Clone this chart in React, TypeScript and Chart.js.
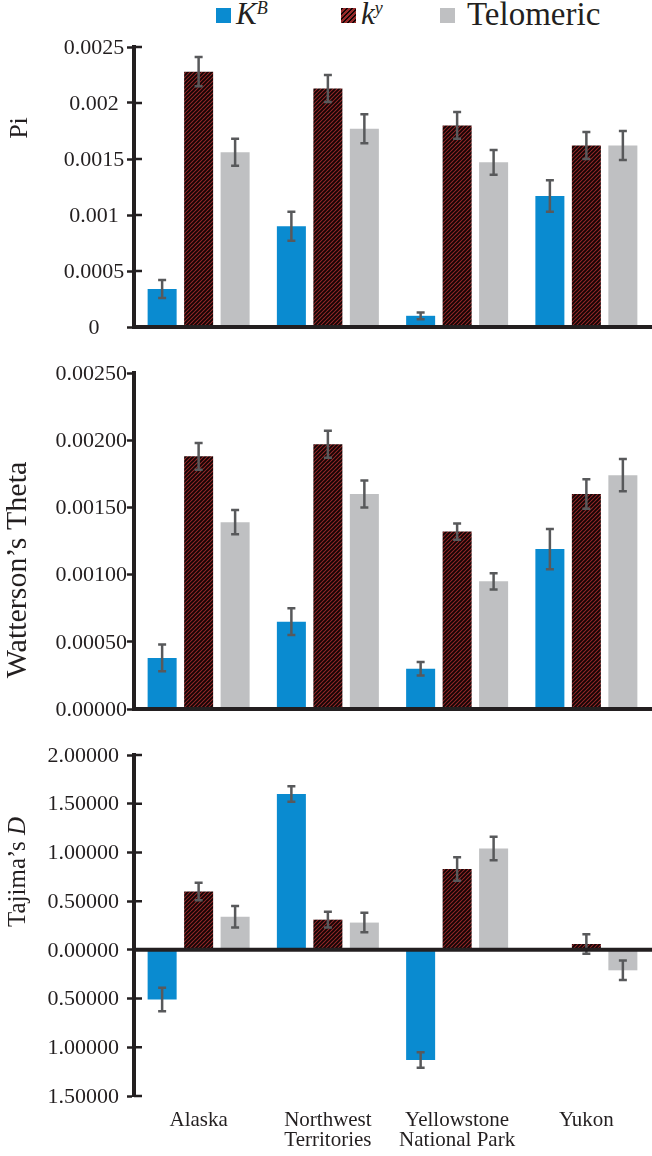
import React, { useEffect, useRef } from 'react';
import { Chart, registerables } from 'chart.js';
Chart.register(...registerables);

// ---------- data ----------
const categories: string[][] = [['Alaska'], ['Northwest', 'Territories'], ['Yellowstone', 'National Park'], ['Yukon']];

const piKB = [0.00034, 0.0009, 0.0001, 0.00117];
const piKBErr = [0.00008, 0.00013, 0.00003, 0.00014];
const piKy = [0.00228, 0.00213, 0.0018, 0.00162];
const piKyErr = [0.00013, 0.00012, 0.00012, 0.00012];
const piTel = [0.00156, 0.00177, 0.00147, 0.00162];
const piTelErr = [0.00012, 0.00013, 0.00011, 0.00013];

const wtKB = [0.00038, 0.00065, 0.0003, 0.00119];
const wtKBErr = [0.0001, 0.0001, 0.00005, 0.00015];
const wtKy = [0.00188, 0.00197, 0.00132, 0.0016];
const wtKyErr = [0.0001, 0.0001, 0.00006, 0.00011];
const wtTel = [0.00139, 0.0016, 0.00095, 0.00174];
const wtTelErr = [0.00009, 0.0001, 0.00006, 0.00012];

const tdKB = [-0.51, 1.6, -1.13, 0];
const tdKBErr = [0.12, 0.08, 0.08, 0];
const tdKy = [0.6, 0.31, 0.83, 0.06];
const tdKyErr = [0.09, 0.08, 0.12, 0.1];
const tdTel = [0.34, 0.28, 1.04, -0.21];
const tdTelErr = [0.11, 0.1, 0.12, 0.1];

const piTickValues = [0, 0.0005, 0.001, 0.0015, 0.002, 0.0025];
const piTickLabels = ['0', '0.0005', '0.001', '0.0015', '0.002', '0.0025'];
const wtTickValues = [0, 0.0005, 0.001, 0.0015, 0.002, 0.0025];
const wtTickLabels = ['0.00000', '0.00050', '0.00100', '0.00150', '0.00200', '0.00250'];
const tdTickValues = [-1.5, -1, -0.5, 0, 0.5, 1, 1.5, 2];
const tdTickLabels = ['1.50000', '1.00000', '0.50000', '0.00000', '0.50000', '1.00000', '1.50000', '2.00000'];

// ---------- styles ----------
const BLUE = '#0a8bd0';
const GRAY = '#bfc0c2';
const INK = '#231f20';
const ERR = '#58595b';
const FONT = '"Liberation Serif", "Times New Roman", serif';

function makePattern(): CanvasPattern | string {
  const c = document.createElement('canvas');
  c.width = 4; c.height = 4;
  const g = c.getContext('2d');
  if (!g) return '#5a1818';
  g.fillStyle = '#96292a';
  g.fillRect(0, 0, 4, 4);
  g.strokeStyle = '#140505';
  g.lineWidth = 1.9;
  g.beginPath();
  g.moveTo(-1, 5); g.lineTo(5, -1);
  g.moveTo(-3, 3); g.lineTo(3, -3);
  g.moveTo(1, 7); g.lineTo(7, 1);
  g.stroke();
  return g.createPattern(c, 'repeat') || '#5a1818';
}

const decorPlugin = {
  id: 'decor',
  afterDatasetsDraw(chart: any, _args: any, opts: any) {
    const ctx = chart.ctx;
    const y = chart.scales.y;
    const xs = chart.scales.x;
    const area = chart.chartArea;
    ctx.save();
    // error bars
    chart.data.datasets.forEach((ds: any, i: number) => {
      const meta = chart.getDatasetMeta(i);
      const errs = opts.errors[i];
      meta.data.forEach((el: any, j: number) => {
        const v = ds.data[j];
        const e = errs[j];
        if (!e) return;
        const yt = y.getPixelForValue(v + e);
        const yb = y.getPixelForValue(v - e);
        ctx.strokeStyle = ERR;
        ctx.lineWidth = 2.5;
        ctx.beginPath();
        ctx.moveTo(el.x, yt); ctx.lineTo(el.x, yb);
        ctx.moveTo(el.x - 4, yt); ctx.lineTo(el.x + 4, yt);
        ctx.moveTo(el.x - 4, yb); ctx.lineTo(el.x + 4, yb);
        ctx.stroke();
      });
    });
    // zero line (category axis)
    const z = y.getPixelForValue(0);
    ctx.strokeStyle = INK;
    ctx.lineWidth = 4;
    ctx.beginPath();
    ctx.moveTo(area.left - 2, z);
    ctx.lineTo(area.right + 1, z);
    ctx.stroke();
    // inner tick halves
    if (opts.crossTicks) {
      ctx.lineWidth = 2.5;
      ctx.beginPath();
      y.ticks.forEach((t: any) => {
        const p = y.getPixelForValue(t.value);
        ctx.moveTo(area.left, p);
        ctx.lineTo(area.left + 8, p);
      });
      ctx.stroke();
    }
    // y tick labels
    ctx.fillStyle = INK;
    ctx.font = `22px ${FONT}`;
    ctx.textBaseline = 'middle';
    ctx.textAlign = opts.labelAlign;
    y.ticks.forEach((t: any, i: number) => {
      ctx.fillText(opts.tickLabels[i], opts.labelX, y.getPixelForValue(t.value) + 1);
    });
    // x category labels
    if (opts.showX) {
      ctx.font = `21px ${FONT}`;
      ctx.textAlign = 'center';
      ctx.textBaseline = 'alphabetic';
      categories.forEach((lines, i) => {
        const px = xs.getPixelForValue(i);
        lines.forEach((ln, k) => ctx.fillText(ln, px, area.bottom + 30 + k * 20));
      });
    }
    // rotated y title
    const parts: { text: string; italic?: boolean }[] = opts.title;
    ctx.textBaseline = 'middle';
    ctx.textAlign = 'left';
    const size = opts.titleSize;
    let total = 0;
    parts.forEach((p) => {
      ctx.font = `${p.italic ? 'italic ' : ''}${size}px ${FONT}`;
      total += ctx.measureText(p.text).width;
    });
    ctx.translate(opts.titleX, opts.titleY);
    ctx.rotate(-Math.PI / 2);
    let x = -total / 2;
    parts.forEach((p) => {
      ctx.font = `${p.italic ? 'italic ' : ''}${size}px ${FONT}`;
      ctx.fillText(p.text, x, 0);
      x += ctx.measureText(p.text).width;
    });
    ctx.restore();
  },
};

function buildConfig(opts: any): any {
  return {
    type: 'bar',
    data: {
      labels: categories.map((c) => c.join(' ')),
      datasets: [
        { label: 'KB', data: opts.s1, backgroundColor: BLUE },
        { label: 'ky', data: opts.s2, backgroundColor: opts.pattern },
        { label: 'Telomeric', data: opts.s3, backgroundColor: GRAY },
      ],
    },
    options: {
      responsive: false,
      devicePixelRatio: 1,
      animation: false,
      categoryPercentage: 0.847,
      barPercentage: 0.795,
      layout: { padding: { top: 15, bottom: opts.padBottom, left: 0, right: 1 } },
      plugins: {
        legend: { display: false },
        tooltip: { enabled: false },
        decor: {
          errors: opts.errors,
          crossTicks: opts.crossTicks,
          tickLabels: opts.tickLabels,
          labelAlign: opts.labelAlign,
          labelX: opts.labelX,
          showX: opts.showX,
          title: opts.title,
          titleSize: opts.titleSize,
          titleX: opts.titleX,
          titleY: opts.titleY,
        },
      },
      scales: {
        x: { display: false },
        y: {
          min: opts.min,
          max: opts.max,
          afterBuildTicks: (s: any) => { s.ticks = opts.tickValues.map((v: number) => ({ value: v })); },
          afterFit: (s: any) => { s.width = 134; },
          grid: { drawOnChartArea: false, drawTicks: true, tickLength: 7, tickWidth: 2.5, tickColor: INK, color: INK },
          border: { display: true, width: 4, color: INK },
          ticks: { display: false },
        },
      },
    },
    plugins: [decorPlugin],
  };
}

const PANEL1_TOP = 32;
const PANEL2_TOP = 358;
const PANEL3_TOP = 740;

export default function App() {
  const r1 = useRef<HTMLCanvasElement>(null);
  const r2 = useRef<HTMLCanvasElement>(null);
  const r3 = useRef<HTMLCanvasElement>(null);

  useEffect(() => {
    const pattern = makePattern();
    const charts: Chart[] = [];
    if (r1.current) {
      charts.push(new Chart(r1.current, buildConfig({
        pattern, s1: piKB, s2: piKy, s3: piTel,
        errors: [piKBErr, piKyErr, piTelErr],
        min: 0, max: 0.0025, tickValues: piTickValues, tickLabels: piTickLabels,
        crossTicks: true, showX: false, padBottom: 15, labelAlign: 'center', labelX: 94,
        title: [{ text: 'Pi' }], titleSize: 26, titleX: 20, titleY: 128 - PANEL1_TOP,
      })));
    }
    if (r2.current) {
      charts.push(new Chart(r2.current, buildConfig({
        pattern, s1: wtKB, s2: wtKy, s3: wtTel,
        errors: [wtKBErr, wtKyErr, wtTelErr],
        min: 0, max: 0.0025, tickValues: wtTickValues, tickLabels: wtTickLabels,
        crossTicks: false, showX: false, padBottom: 15, labelAlign: 'right', labelX: 127,
        title: [{ text: 'Watterson\u2019s Theta' }], titleSize: 30, titleX: 18, titleY: 570 - PANEL2_TOP,
      })));
    }
    if (r3.current) {
      charts.push(new Chart(r3.current, buildConfig({
        pattern, s1: tdKB, s2: tdKy, s3: tdTel,
        errors: [tdKBErr, tdKyErr, tdTelErr],
        min: -1.5, max: 2, tickValues: tdTickValues, tickLabels: tdTickLabels,
        crossTicks: true, showX: true, padBottom: 60, labelAlign: 'right', labelX: 119,
        title: [{ text: 'Tajima\u2019s ' }, { text: 'D', italic: true }], titleSize: 25, titleX: 18, titleY: 872 - PANEL3_TOP,
      })));
    }
    return () => charts.forEach((c) => c.destroy());
  }, []);

  const sq = (color: string, left: number, extra?: any) => (
    <div style={{ position: 'absolute', left, top: 8, width: 15, height: 15, background: color, ...extra }} />
  );
  const legendText: any = { position: 'absolute', top: -4, fontFamily: FONT, color: INK, whiteSpace: 'nowrap', lineHeight: '36px' };
  const supStyle: any = { fontSize: 18, fontStyle: 'italic', verticalAlign: 'top', position: 'relative', top: -6 };

  return (
    <div style={{ position: 'absolute', left: 0, top: 0, width: 652, height: 1156, background: '#fff', overflow: 'hidden' }}>
      {sq(BLUE, 216)}
      <div style={{ ...legendText, left: 236, fontSize: 31 }}>
        <i>K</i><sup style={supStyle}>B</sup>
      </div>
      {sq('#5a1818', 341, { backgroundImage: 'repeating-linear-gradient(-45deg, #96292a 0 2px, #140505 2px 3.5px)' })}
      <div style={{ ...legendText, left: 361, fontSize: 31 }}>
        <i>k</i><sup style={supStyle}>y</sup>
      </div>
      {sq(GRAY, 440)}
      <div style={{ ...legendText, left: 467, fontSize: 33 }}>Telomeric</div>

      <canvas ref={r1} width={652} height={310} style={{ position: 'absolute', left: 0, top: PANEL1_TOP, display: 'block' }} />
      <canvas ref={r2} width={652} height={366} style={{ position: 'absolute', left: 0, top: PANEL2_TOP, display: 'block' }} />
      <canvas ref={r3} width={652} height={416} style={{ position: 'absolute', left: 0, top: PANEL3_TOP, display: 'block' }} />
    </div>
  );
}
